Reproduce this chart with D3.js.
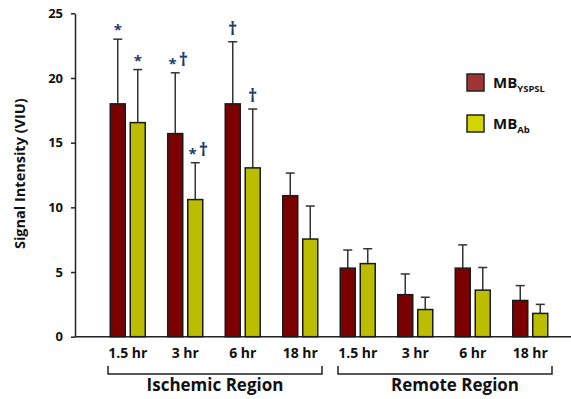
<!DOCTYPE html>
<html>
<head>
<meta charset="utf-8">
<script src="https://cdnjs.cloudflare.com/ajax/libs/d3/7.8.5/d3.min.js"></script>
<style>
body { margin: 0; background: #fff; }
svg { font-family: "Open Sans", Lato, sans-serif; font-weight: bold; }
</style>
</head>
<body>
<svg class="chart"></svg>
<script>
// data
TIMES = ["1.5 hr", "3 hr", "6 hr", "18 hr", "1.5 hr", "3 hr", "6 hr", "18 hr"];
REGIONS = ["Ischemic Region", "Remote Region"];
SERIES = ["MB_YSPSL", "MB_Ab"];
YSPSL_MEAN = [18.0, 15.7, 18.0, 10.9, 5.3, 3.25, 5.3, 2.8];
YSPSL_ERR  = [23.0, 20.4, 22.8, 12.65, 6.7, 4.85, 7.1, 3.95];
AB_MEAN    = [16.55, 10.6, 13.05, 7.55, 5.65, 2.1, 3.6, 1.8];
AB_ERR     = [20.65, 13.45, 17.6, 10.1, 6.8, 3.05, 5.35, 2.5];
YSPSL_MARK = ["*", "*\u2020", "\u2020", "", "", "", "", ""];
AB_MARK    = ["*", "*\u2020", "\u2020", "", "", "", "", ""];
Y_TICKS = [0, 5, 10, 15, 20, 25];

WIDTH = 571;
HEIGHT = 399;
COLORS = ["#7b0000", "#bdbd00"];
LEGEND_COLORS = ["#9e3434", "#d4d400"];

var svg = d3.select(".chart").attr("width", WIDTH).attr("height", HEIGHT);

var y = d3.scaleLinear().domain([0, 25]).range([336.7, 13.3]);
var x = d3.scaleBand().domain(d3.range(TIMES.length)).range([99, 559]).padding(0);
var sub = d3.scaleBand().domain([0, 1]).range([x.bandwidth() / 2 - 17.5, x.bandwidth() / 2 + 17.5]).paddingInner(0.25);

// y axis
svg.append("g")
    .attr("transform", "translate(75,0)")
    .call(d3.axisLeft(y).tickValues(Y_TICKS).tickSize(4).tickSizeOuter(0).tickPadding(8))
    .call(function(g) {
        g.selectAll("line, path").attr("stroke", "#222").attr("stroke-width", 1.5);
        g.selectAll("text").attr("font-size", 13).attr("fill", "#111")
            .attr("font-family", "'Open Sans', sans-serif").attr("font-weight", "bold");
    });

// x axis line
svg.append("line")
    .attr("x1", 75).attr("x2", WIDTH)
    .attr("y1", y(0)).attr("y2", y(0))
    .attr("stroke", "#222").attr("stroke-width", 1.5);

svg.append("text")
    .attr("transform", "translate(25," + y(12.6) + ") rotate(-90)")
    .attr("text-anchor", "middle")
    .attr("font-size", 14.5)
    .attr("fill", "#111")
    .text("Signal Intensity (VIU)");

var rows = TIMES.map(function(t, i) {
    return [
        {i: i, s: 0, mean: YSPSL_MEAN[i], err: YSPSL_ERR[i], mark: YSPSL_MARK[i]},
        {i: i, s: 1, mean: AB_MEAN[i], err: AB_ERR[i], mark: AB_MARK[i]}
    ];
});

var groups = svg.selectAll(".grp")
    .data(rows)
    .enter().append("g")
    .attr("transform", function(d, i) { return "translate(" + x(i) + ",0)"; });

var bars = groups.selectAll(".bar")
    .data(function(d) { return d; })
    .enter().append("g");

// error bars (upper only)
bars.append("line")
    .attr("x1", function(d) { return sub(d.s) + sub.bandwidth() / 2; })
    .attr("x2", function(d) { return sub(d.s) + sub.bandwidth() / 2; })
    .attr("y1", function(d) { return y(d.mean); })
    .attr("y2", function(d) { return y(d.err); })
    .attr("stroke", "#333").attr("stroke-width", 1.5);
bars.append("line")
    .attr("x1", function(d) { return sub(d.s) + sub.bandwidth() / 2 - 4.5; })
    .attr("x2", function(d) { return sub(d.s) + sub.bandwidth() / 2 + 4.5; })
    .attr("y1", function(d) { return y(d.err); })
    .attr("y2", function(d) { return y(d.err); })
    .attr("stroke", "#333").attr("stroke-width", 1.5);

bars.append("rect")
    .attr("x", function(d) { return sub(d.s); })
    .attr("width", sub.bandwidth())
    .attr("y", function(d) { return y(d.mean); })
    .attr("height", function(d) { return y(0) - y(d.mean); })
    .attr("fill", function(d) { return COLORS[d.s]; })
    .attr("stroke", "#1a1a1a").attr("stroke-width", 1.5);

// significance marks: star and dagger drawn separately
var marks = bars.append("text")
    .attr("x", function(d) { return sub(d.s) + sub.bandwidth() / 2 + (d.mark.length > 1 ? 3 : 0); })
    .attr("y", function(d) { return y(d.err) - 6; })
    .attr("text-anchor", "middle")
    .attr("fill", "#1f3a6e");
marks.selectAll("tspan")
    .data(function(d) { return d.mark.split(""); })
    .enter().append("tspan")
    .attr("font-size", function(c) { return c == "*" ? 15 : 18; })
    .attr("dy", function(c) { return c == "*" ? 2 : -1; })
    .attr("dx", function(c, j) { return j > 0 ? 2 : 0; })
    .text(function(c) { return c; });
marks.selectAll("tspan").filter(function(c, j) { return j > 0; }).attr("dy", -3);

// time labels
groups.append("text")
    .attr("x", x.bandwidth() / 2)
    .attr("y", 358)
    .attr("text-anchor", "middle")
    .attr("font-size", 14)
    .attr("fill", "#111")
    .text(function(d, i) { return TIMES[i]; });

// region brackets
REGIONS.forEach(function(r, k) {
    var x0 = x(k * 4) + 9, x1 = x(k * 4 + 3) + x.bandwidth() - 7;
    svg.append("path")
        .attr("d", "M" + x0 + ",366V374H" + x1 + "V366")
        .attr("fill", "none").attr("stroke", "#222").attr("stroke-width", 1.5);
    svg.append("text")
        .attr("x", (x0 + x1) / 2 + (k == 1 ? 10 : 0))
        .attr("y", 391)
        .attr("text-anchor", "middle")
        .attr("font-size", 17)
        .attr("fill", "#111")
        .text(r);
});

// legend
var legend = svg.selectAll(".legend")
    .data(SERIES)
    .enter().append("g")
    .attr("transform", function(d, i) { return "translate(467," + (74 + i * 41) + ")"; });
legend.append("rect")
    .attr("width", 17).attr("height", 17)
    .attr("fill", function(d, i) { return LEGEND_COLORS[i]; })
    .attr("stroke", "#222").attr("stroke-width", 1.5);
var lt = legend.append("text")
    .attr("x", 26).attr("y", 14)
    .attr("font-size", 15)
    .attr("fill", "#111");
lt.append("tspan").text(function(d) { return d.split("_")[0]; });
lt.append("tspan").attr("dy", 4).attr("font-size", 9.5)
    .text(function(d) { return d.split("_")[1]; });
</script>
</body>
</html>
